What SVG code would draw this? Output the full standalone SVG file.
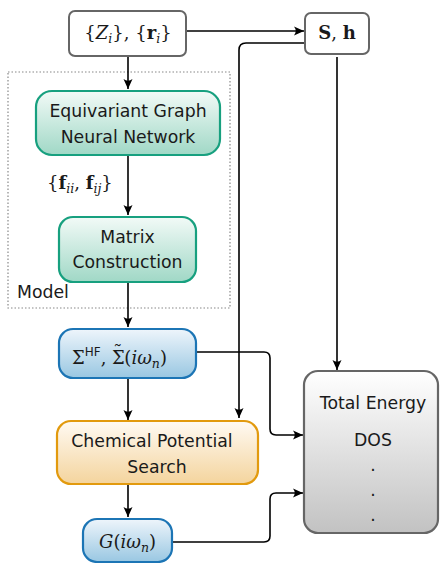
<svg xmlns="http://www.w3.org/2000/svg" width="440" height="563" viewBox="0 0 440 563">
<style>
.sans{font-family:"DejaVu Sans","Liberation Sans",sans-serif;font-size:17.3px;fill:#1a1a1a;text-anchor:middle}
.math{font-family:"DejaVu Serif","Liberation Serif",serif;font-size:18px;fill:#1a1a1a}
.it{font-style:italic}
.bf{font-weight:bold}
.sub{font-size:12.5px}
.conn{fill:none;stroke:#000;stroke-width:1.6;stroke-linejoin:round}
</style>
<defs>
<linearGradient id="gGreen" x1="0" y1="0" x2="0" y2="1"><stop offset="0" stop-color="#f2faf7"/><stop offset="1" stop-color="#a0d8c6"/></linearGradient>
<linearGradient id="gBlue" x1="0" y1="0" x2="0" y2="1"><stop offset="0" stop-color="#eef5fb"/><stop offset="1" stop-color="#99c7e2"/></linearGradient>
<linearGradient id="gOrange" x1="0" y1="0" x2="0" y2="1"><stop offset="0" stop-color="#fffaf3"/><stop offset="1" stop-color="#f4d49d"/></linearGradient>
<linearGradient id="gGray" x1="0" y1="0" x2="0" y2="1"><stop offset="0" stop-color="#ffffff"/><stop offset="1" stop-color="#c2c2c2"/></linearGradient>
<marker id="arr" viewBox="-10 -5 11 10" refX="0" refY="0" markerWidth="11" markerHeight="10" markerUnits="userSpaceOnUse" orient="auto">
<path d="M0,0 L-10,-4.5 Q-6.5,0 -10,4.5 Z" fill="#000"/>
</marker>
</defs>

<rect id="model-frame" x="8" y="72" width="222" height="236" fill="none" stroke="#888" stroke-width="1.2" stroke-dasharray="1.5,2"/>
<text class="sans" x="17" y="298" style="text-anchor:start">Model</text>

<g id="connectors">
<path class="conn" d="M128,56 V89" marker-end="url(#arr)"/>
<path class="conn" d="M186,31 H304" marker-end="url(#arr)"/>
<path class="conn" d="M305,43 H246 Q239,43 239,50 V418" marker-end="url(#arr)"/>
<path class="conn" d="M337,57 V370" marker-end="url(#arr)"/>
<path class="conn" d="M128,155 V215" marker-end="url(#arr)"/>
<path class="conn" d="M128,282 V327" marker-end="url(#arr)"/>
<path class="conn" d="M128,378 V420" marker-end="url(#arr)"/>
<path class="conn" d="M128,484 V517" marker-end="url(#arr)"/>
<path class="conn" d="M196,352 H264 Q270,352 270,358 V429 Q270,435 276,435 H303" marker-end="url(#arr)"/>
<path class="conn" d="M172,542 H264 Q270,542 270,536 V499 Q270,493 276,493 H303" marker-end="url(#arr)"/>
</g>

<g id="inputs">
<rect x="69" y="11" width="117" height="45" rx="6" fill="#fff" stroke="#666" stroke-width="2"/>
<text class="math" x="128" y="39" text-anchor="middle">{<tspan class="it">Z</tspan><tspan class="it sub" dy="4">i</tspan><tspan dy="-4">}, {</tspan><tspan class="bf">r</tspan><tspan class="it sub" dy="4">i</tspan><tspan dy="-4">}</tspan></text>
</g>

<g id="Sh">
<rect x="305" y="13" width="64" height="41" rx="6" fill="#fff" stroke="#666" stroke-width="2"/>
<text class="math" x="337" y="39" text-anchor="middle"><tspan class="bf">S</tspan>, <tspan class="bf">h</tspan></text>
</g>

<g id="egnn">
<rect x="36" y="91" width="184" height="64" rx="16" fill="url(#gGreen)" stroke="#17a07f" stroke-width="2.2"/>
<text class="sans" x="128" y="117">Equivariant Graph</text>
<text class="sans" x="128" y="143">Neural Network</text>
</g>

<text class="math" x="47" y="189">{<tspan class="bf">f</tspan><tspan class="it sub" dy="4">ii</tspan><tspan dy="-4">, </tspan><tspan class="bf">f</tspan><tspan class="it sub" dy="4">ij</tspan><tspan dy="-4">}</tspan></text>

<g id="sigma">
<rect x="59" y="329" width="137" height="49" rx="14" fill="url(#gBlue)" stroke="#1c75b5" stroke-width="2.2"/>
<text class="math" x="72" y="364">Σ<tspan font-family="DejaVu Sans, sans-serif" font-size="12" dy="-8">HF</tspan><tspan dy="8">, Σ</tspan><tspan dx="-11.5" dy="-6">˜</tspan><tspan dx="2" dy="6">(</tspan><tspan class="it">iω</tspan><tspan class="it sub" dy="4">n</tspan><tspan dy="-4">)</tspan></text>
</g>

<g id="matrix">
<rect x="59" y="217" width="137" height="65" rx="14" fill="url(#gGreen)" stroke="#17a07f" stroke-width="2.2"/>
<text class="sans" x="127.5" y="243">Matrix</text>
<text class="sans" x="127.5" y="268">Construction</text>
</g>

<g id="chem">
<rect x="57" y="421" width="201" height="63" rx="14" fill="url(#gOrange)" stroke="#e29a0e" stroke-width="2.2"/>
<text class="sans" x="152" y="447">Chemical Potential</text>
<text class="sans" x="157" y="473">Search</text>
</g>

<g id="green-fn">
<rect x="83" y="519" width="89" height="43" rx="14" fill="url(#gBlue)" stroke="#1c75b5" stroke-width="2.2"/>
<text class="math" x="127.5" y="548" text-anchor="middle"><tspan class="it">G</tspan>(<tspan class="it">iω</tspan><tspan class="it sub" dy="4">n</tspan><tspan dy="-4">)</tspan></text>
</g>

<g id="outputs">
<rect x="304" y="371" width="134" height="162" rx="14" fill="url(#gGray)" stroke="#666" stroke-width="2.2"/>
<text class="sans" x="373" y="409">Total Energy</text>
<text class="sans" x="373" y="446">DOS</text>
<text class="sans" x="373" y="471">.</text>
<text class="sans" x="373" y="496">.</text>
<text class="sans" x="373" y="521">.</text>
</g>
</svg>
